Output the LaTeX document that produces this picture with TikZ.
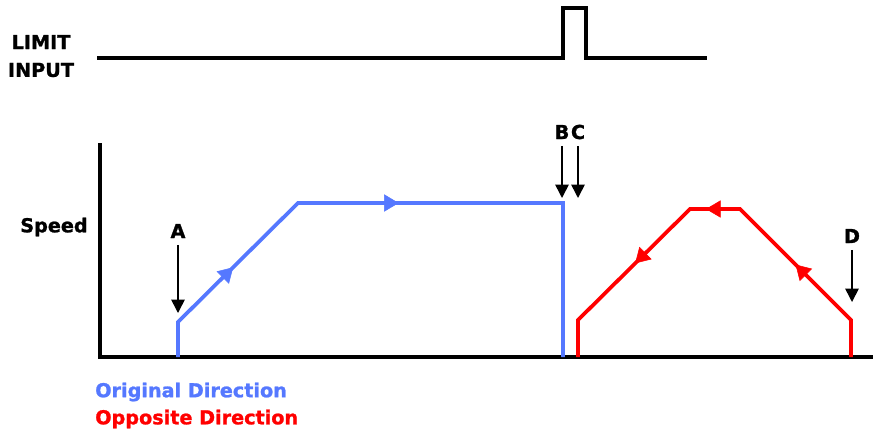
\documentclass[tikz,border=0pt]{standalone}
\usepackage{fontspec}
\setmainfont{DejaVu Sans}
\newfontfamily\pixfont[FakeBold=1.2]{DejaVu Sans Bold}
\usetikzlibrary{arrows.meta,decorations.markings}
\definecolor{origblue}{RGB}{85,120,255}
\definecolor{oppred}{RGB}{255,0,0}

\begin{document}
\begin{tikzpicture}[x=0.75pt, y=-0.75pt, line join=miter,
    lbl/.style={font=\pixfont\fontsize{14.4pt}{16pt}\selectfont, inner sep=0pt},
    pointer/.style={-{Triangle[width=10pt,length=10pt]}, line width=1.2pt, shorten <=5pt},
    signal/.style={line width=2.5pt},
    trace/.style={line width=2.8pt, draw=#1},
    midarrow/.style={postaction={decorate}, decoration={markings, mark=at position #1 with {\arrow{Triangle[width=13pt,length=11pt]}}}}]
        \useasboundingbox (0,0) rectangle (873,429);

        % limit input signal
        \node[lbl] (lim) at (41,42) {LIMIT};
        \node[lbl] (inp) at (41,70) {INPUT};
        \coordinate (l0) at (97,58);
        \coordinate (l1) at (563,58);
        \coordinate (l2) at (563,8);
        \coordinate (l3) at (586,8);
        \coordinate (l4) at (586,58);
        \coordinate (l5) at (707,58);
        \draw[signal] (l0) -- (l1) -- (l2) -- (l3) -- (l4) -- (l5);

        % axes
        \coordinate (top) at (100,143);
        \coordinate (org) at (100,357);
        \coordinate (right) at (873,357);
        \draw[signal] (top) -- (org) -- (right);
        \node[lbl] (speed) at (54,227) {Speed};

        % original direction
        \coordinate (b0) at (178,357);
        \coordinate (b1) at (178,322);
        \coordinate (b2) at (298,203);
        \coordinate (b3) at (563,203);
        \coordinate (b4) at (563,357);
        \draw[trace=origblue] (b0) -- (b1) -- (b2) -- (b3) -- (b4);
        \path[color=origblue, midarrow=0.46] (b1) -- (b2);
        \path[color=origblue, midarrow=0.38] (b2) -- (b3);

        % opposite direction
        \coordinate (r0) at (578,357);
        \coordinate (r1) at (578,320);
        \coordinate (r2) at (690,209);
        \coordinate (r3) at (740,209);
        \coordinate (r4) at (851,320);
        \coordinate (r5) at (851,357);
        \draw[trace=oppred] (r0) -- (r1) -- (r2) -- (r3) -- (r4) -- (r5);
        \path[color=oppred, midarrow=0.50] (r4) -- (r3);
        \path[color=oppred, midarrow=0.68] (r3) -- (r2);
        \path[color=oppred, midarrow=0.49] (r2) -- (r1);

        % event markers
        \node[lbl] (A) at (178,231) {A};
        \node[lbl] (B) at (562,132) {B};
        \node[lbl] (C) at (578,132) {C};
        \node[lbl] (D) at (852,236) {D};
        \coordinate (atip) at (178,313);
        \coordinate (btip) at (562,198);
        \coordinate (ctip) at (578,198);
        \coordinate (dtip) at (852,302);
        \draw[pointer] (A) -- (atip);
        \draw[pointer] (B) -- (btip);
        \draw[pointer] (C) -- (ctip);
        \draw[pointer] (D) -- (dtip);

        % legend
        \node[lbl, text=origblue, anchor=west] (orig) at (95,392) {Original Direction};
        \node[lbl, text=oppred, anchor=west] (opp) at (95,419) {Opposite Direction};
    \end{tikzpicture}
\end{document}
